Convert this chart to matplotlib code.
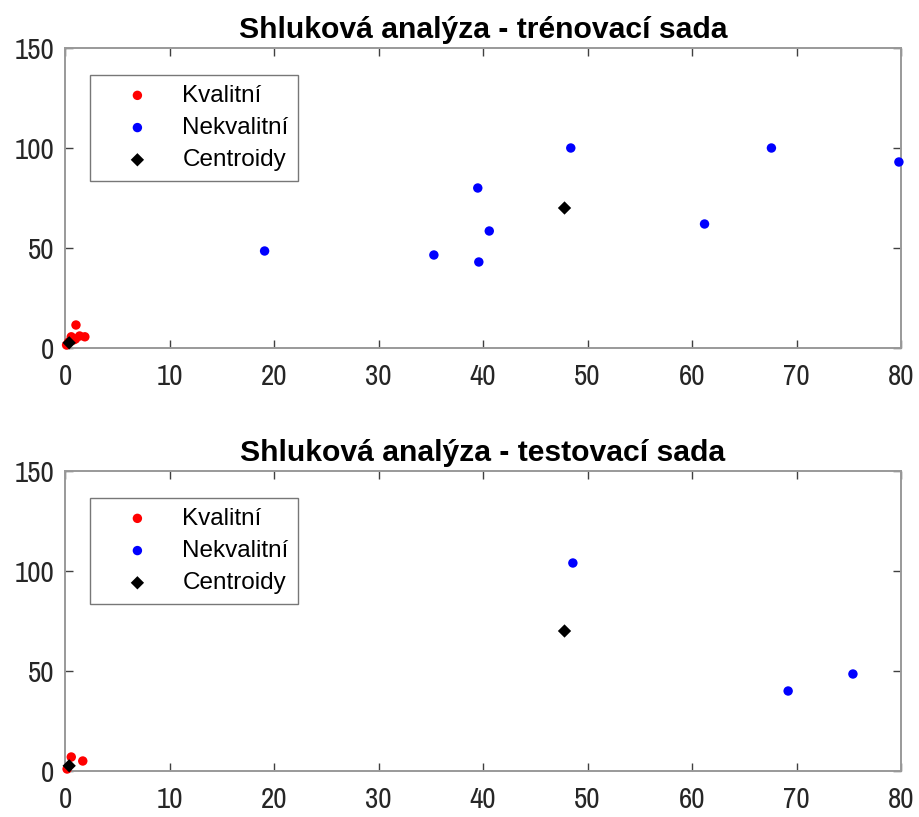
import numpy as np
import matplotlib.pyplot as plt
from matplotlib import font_manager

# training set
train_good_x = [1.05, 0.6, 1.0, 1.4, 1.9, 0.15, 0.35, 0.8]
train_good_y = [11.5, 5.6, 4.5, 6.0, 5.6, 1.5, 3.0, 4.0]
train_bad_x = [19.1, 35.3, 39.5, 39.6, 40.6, 48.4, 61.2, 67.6, 79.8]
train_bad_y = [48.5, 46.5, 80.0, 43.0, 58.5, 100.0, 62.0, 100.0, 93.0]

# test set
test_good_x = [0.6, 1.7, 0.2]
test_good_y = [7.0, 5.0, 1.0]
test_bad_x = [48.6, 69.2, 75.4]
test_bad_y = [104.0, 40.0, 48.5]

cent_x = [0.4, 47.8]
cent_y = [2.6, 70.0]

plt.rcParams['font.family'] = ['Liberation Sans', 'DejaVu Sans']

# narrow face for the tick numbers, if one is around
available = set(f.name for f in font_manager.fontManager.ttflist)
tick_font, tick_size = 'Liberation Sans', 18.5
for name, size in [('Liberation Sans Narrow', 22), ('Arial Narrow', 22),
                   ('Archivo Narrow', 21), ('PT Sans Narrow', 22),
                   ('Roboto Condensed', 20)]:
    if name in available:
        tick_font, tick_size = name, size
        break

fig = plt.figure(figsize=(9.19, 8.17), dpi=100)
ax1 = fig.add_axes([65/919, 1 - 348/817, 836/919, 300/817])
ax2 = fig.add_axes([65/919, 1 - 771/817, 836/919, 300/817])


def panel(ax, gx, gy, bx, by, title):
    ax.scatter(gx, gy, s=46, c='#ff0000', edgecolors='none', label='Kvalitní', zorder=3,
               clip_on=False)
    ax.scatter(bx, by, s=46, c='#0000ff', edgecolors='none', label='Nekvalitní', zorder=3,
               clip_on=False)
    ax.scatter(cent_x, cent_y, s=46, c='k', marker='D', edgecolors='none',
               label='Centroidy', zorder=4, clip_on=False)
    ax.set_xlim(0, 80)
    ax.set_ylim(0, 150)
    ax.set_xticks(range(0, 81, 10))
    ax.set_yticks([0, 50, 100, 150])
    ax.tick_params(direction='in', top=True, right=True,
                   length=6, width=1, color='#404040', labelcolor='#262626')
    ax.tick_params(axis='y', pad=8)
    ax.tick_params(axis='x', pad=11)
    for lab in ax.get_xticklabels() + ax.get_yticklabels():
        lab.set_family([tick_font, 'DejaVu Sans'])
        lab.set_fontsize(tick_size)
    for sp in ax.spines.values():
        sp.set_color('#999999')
        sp.set_linewidth(1.4)
    ax.set_title(title, fontsize=21.7, fontweight='bold', pad=7)
    leg = ax.legend(loc='upper left', bbox_to_anchor=(25/836, 0.91), borderaxespad=0,
                    fontsize=17.5, frameon=True, fancybox=False, edgecolor='#555555',
                    handletextpad=0.3, borderpad=0.4, labelspacing=0.42,
                    handlelength=3.1, scatterpoints=1)
    leg.get_frame().set_linewidth(1.0)


panel(ax1, train_good_x, train_good_y, train_bad_x, train_bad_y,
      'Shluková analýza - trénovací sada')
panel(ax2, test_good_x, test_good_y, test_bad_x, test_bad_y,
      'Shluková analýza - testovací sada')

fig.savefig('out.png', dpi=100)
